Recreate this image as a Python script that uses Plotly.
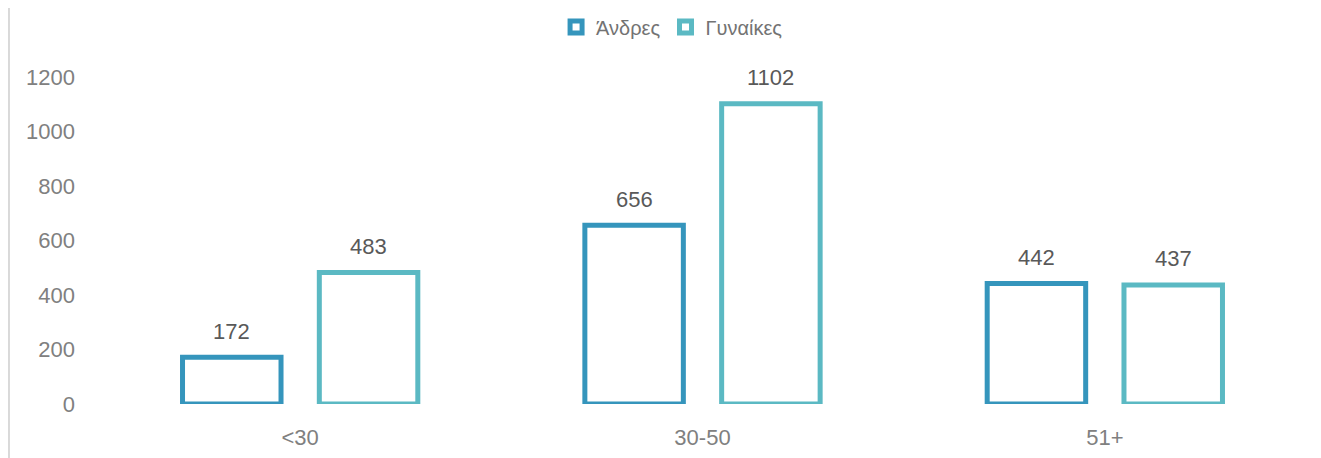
import plotly.graph_objects as go

categories = ["<30", "30-50", "51+"]
series_names = ["Άνδρες", "Γυναίκες"]
andres = [172, 656, 442]
gynaikes = [483, 1102, 437]
y_ticks = [0, 200, 400, 600, 800, 1000, 1200]

colors = ["#3595BC", "#5BB9C3"]
font_family = "Liberation Sans, Arial, sans-serif"
label_color = "#595959"
tick_color = "#808080"

fig = go.Figure()
for name, vals, col in zip(series_names, [andres, gynaikes], colors):
    fig.add_trace(go.Bar(
        x=categories, y=vals, name=name,
        marker=dict(color="white", line=dict(color=col, width=5)),
        hoverinfo="x+y+name",
    ))

# data labels above bars
for vals, shift in zip([andres, gynaikes], [-68.3, 68.3]):
    for c, v in zip(categories, vals):
        fig.add_annotation(x=c, y=v, xref="x", yref="y", text=str(v), showarrow=False,
                           xshift=shift, yshift=26, yanchor="middle",
                           font=dict(size=22, color=label_color, family=font_family))

# page body adds an 8px offset, margins compensate
fig.update_layout(
    width=1321, height=458,
    margin=dict(l=91, r=23, t=69, b=62, autoexpand=False),
    paper_bgcolor="white", plot_bgcolor="white",
    barmode="group", bargap=0.32, bargroupgap=0.28,
    font=dict(family=font_family, color=tick_color, size=22),
    legend=dict(orientation="h", x=0.5027, xanchor="center", xref="container",
                y=0.9585, yanchor="middle", yref="container",
                font=dict(size=20, color="#737373", family=font_family),
                itemwidth=30, traceorder="normal"),
    showlegend=True,
)
fig.update_xaxes(showgrid=False, showline=False, zeroline=False, ticks="",
                 tickfont=dict(size=22, color=tick_color), ticklabelstandoff=18)
fig.update_yaxes(range=[0, 1200], tickvals=y_ticks, showgrid=False, showline=False,
                 zeroline=False, ticks="", tickfont=dict(size=22, color=tick_color),
                 ticklabelstandoff=23)
fig.add_shape(type="line", xref="paper", yref="paper", x0=-0.0746, x1=-0.0746, y0=-0.2, y1=1.25,
              line=dict(color="#D9D9D9", width=2))

fig.write_html("out.html")
